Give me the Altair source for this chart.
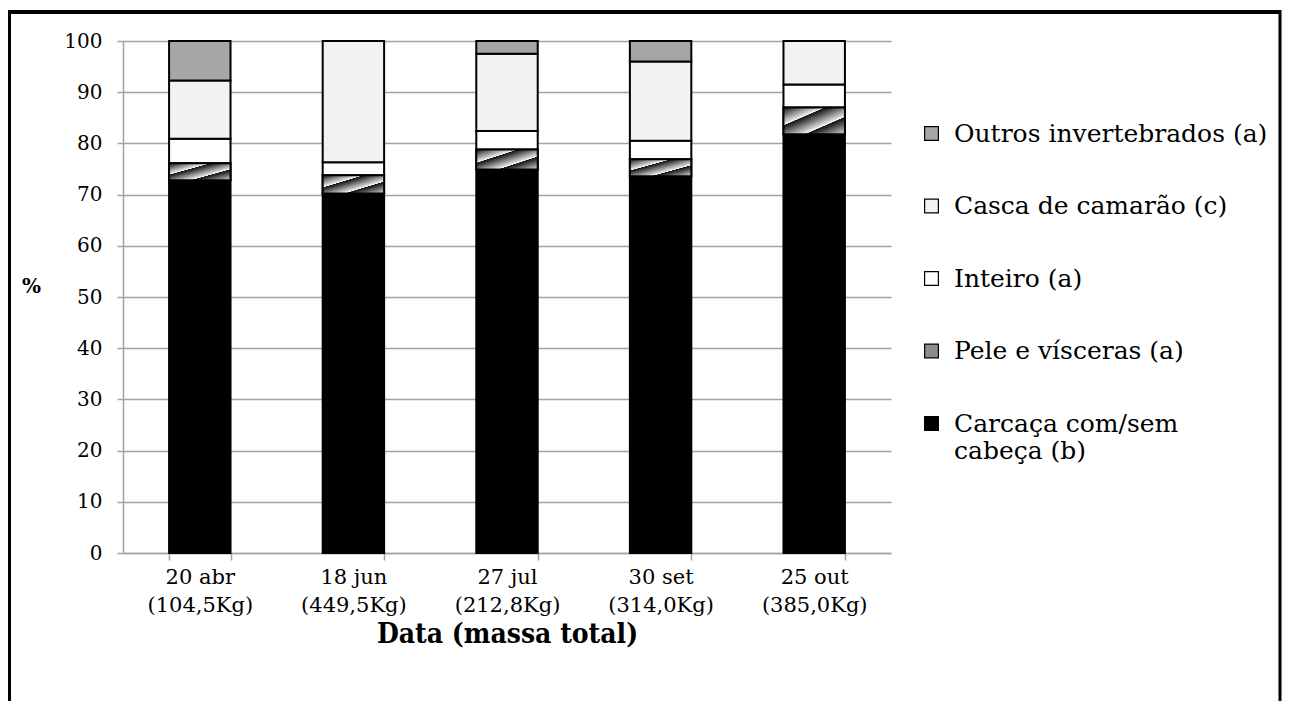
import altair as alt
import pandas as pd

datas = ["20 abr|(104,5Kg)", "18 jun|(449,5Kg)", "27 jul|(212,8Kg)", "30 set|(314,0Kg)", "25 out|(385,0Kg)"]

# stacking order, bottom to top
cats = ["Carcaça com/sem cabeça (b)", "Pele e vísceras  (a)", "Inteiro  (a)",
        "Casca de camarão (c)", "Outros invertebrados (a)"]
carcaca = [72.8, 70.2, 74.9, 73.6, 81.8]
pele = [3.3, 3.6, 3.9, 3.3, 5.2]
inteiro = [4.8, 2.5, 3.6, 3.6, 4.5]
casca = [11.4, 23.7, 15.1, 15.5, 8.5]
outros = [7.7, 0.0, 2.5, 4.0, 0.0]
series = [carcaca, pele, inteiro, casca, outros]

legend_order = list(reversed(cats))
legend_colors = ["#a6a6a6", "#f2f2f2", "#ffffff", "#8c8c8c", "#000000"]

rows = []
for i, d in enumerate(datas):
    acc = 0.0
    for c, s in zip(cats, series):
        v = s[i]
        if v > 0:
            rows.append({"data": d, "cat": c, "y0": acc, "y1": acc + v})
        acc += v
df = pd.DataFrame(rows)

FONT = "DejaVu Serif"
GRID = "#a3a3a3"

stops = [
    (0.0, "#111111"), (0.30, "#dddddd"), (0.33, "#ffffff"),
    (0.34, "#111111"), (0.64, "#dddddd"), (0.67, "#ffffff"),
    (0.68, "#111111"), (1.0, "#dddddd"),
]
hatch = alt.Gradient(
    gradient="linear", x1=0, y1=0, x2=1, y2=1,
    stops=[alt.GradientStop(offset=o, color=c) for o, c in stops],
)

x_enc = alt.X(
    "data:N", sort=datas,
    scale=alt.Scale(paddingInner=0.6, paddingOuter=0.3),
    axis=alt.Axis(
        title="Data (massa total)", labelAngle=0,
        labelExpr="split(datum.label, '|')",
        labelFont=FONT, labelFontSize=21, labelLineHeight=28, labelColor="black",
        labelPadding=6, tickBand="extent", tickColor=GRID, tickSize=7, tickWidth=1.5,
        domainColor=GRID, domainWidth=1.5, grid=False,
        titleFont="DejaVu Serif Condensed", titleFontSize=28, titleFontWeight="bold",
        titleColor="black", titlePadding=5,
    ),
)
y_enc = alt.Y(
    "y0:Q", scale=alt.Scale(domain=[0, 100], nice=False),
    axis=alt.Axis(
        values=list(range(0, 101, 10)), title="%", titleAngle=0,
        titleX=-92, titleY=245, titleAlign="center", titleBaseline="middle",
        titleFont=FONT, titleFontSize=20, titleFontWeight="bold", titleColor="black",
        labelFont=FONT, labelFontSize=20, labelColor="black", labelPadding=15,
        tickColor=GRID, tickSize=6, tickWidth=1.5,
        domainColor=GRID, domainWidth=1.5,
        gridColor=GRID, gridWidth=1.5,
    ),
)

bars = alt.Chart(df).mark_bar(stroke="black", strokeWidth=2).encode(
    x=x_enc, y=y_enc, y2="y1:Q",
    color=alt.Color(
        "cat:N",
        scale=alt.Scale(domain=legend_order, range=legend_colors),
        legend=alt.Legend(
            title=None, orient="none", legendX=796, legendY=80,
            symbolType="square", symbolSize=190, symbolStrokeColor="black",
            symbolStrokeWidth=1.2, symbolOpacity=1,
            labelFont=FONT, labelFontSize=25, labelColor="black", labelLimit=500,
            labelExpr="datum.label == 'Carcaça com/sem cabeça (b)' ? ['Carcaça com/sem', 'cabeça (b)'] : datum.label",
            rowPadding=46.5, labelOffset=10,
        ),
    ),
)

hatch_layer = alt.Chart(df).transform_filter(
    "datum.cat === 'Pele e vísceras  (a)'"
).mark_bar(fill=hatch, stroke="black", strokeWidth=2).encode(
    x=alt.X("data:N", sort=datas), y="y0:Q", y2="y1:Q"
)

frame_data = alt.Data(values=[{"k": 1}])
top = alt.Chart(frame_data).mark_rule(color="black", strokeWidth=4).encode(
    x=alt.value(-114), x2=alt.value(1157), y=alt.value(-29))
left = alt.Chart(frame_data).mark_rule(color="black", strokeWidth=4).encode(
    x=alt.value(-114), y=alt.value(-31), y2=alt.value(660))
right = alt.Chart(frame_data).mark_rule(color="black", strokeWidth=3).encode(
    x=alt.value(1157), y=alt.value(-31), y2=alt.value(660))

chart = alt.layer(bars, hatch_layer, top, left, right).properties(
    width=768, height=512,
    autosize=alt.AutoSizeParams(type="none"),
    padding={"left": 115, "top": 33, "right": 391, "bottom": 150},
    background="white",
).configure_view(stroke=None)

chart.save("out.html", embed_options={"renderer": "svg", "actions": False})
